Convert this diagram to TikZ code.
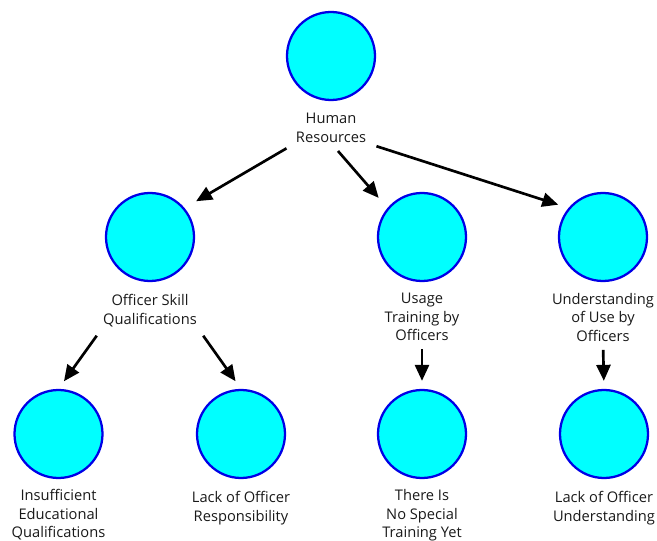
\documentclass[tikz,border=0pt]{standalone}
\usepackage{fontspec}
\setmainfont{Open Sans}
\usetikzlibrary{positioning}
\usetikzlibrary{arrows.meta}
\definecolor{aqua}{RGB}{0,255,255}
\definecolor{rim}{RGB}{0,0,230}

\begin{document}
\begin{tikzpicture}[x=.75pt, y=-.75pt,
  ball/.style={circle, draw=rim, fill=aqua, line width=1.7pt, minimum size=66pt, inner sep=0},
  txt/.style={align=center, inner sep=0, text=black!90, font=\fontsize{11}{14}\selectfont},
  arr/.style={black, line width=2pt, ->, >={Triangle[length=12pt,width=10.5pt]}}]
\useasboundingbox (0,0) rectangle (657,541);
% circles
\node[ball] (hr) at (331,56) {};
\node[ball] (skill) at (150,237) {};
\node[ball] (usage) at (422,237) {};
\node[ball] (underst) at (603,237) {};
\node[ball] (educ) at (58.5,434) {};
\node[ball] (resp) at (241,434) {};
\node[ball] (train) at (422,434) {};
\node[ball] (lack) at (604,434) {};
% labels
\node[txt, below=9pt of hr] (hrtxt) {Human\\Resources};
\node[txt, below=9pt of skill] (skilltxt) {Officer Skill\\Qualifications};
\node[txt, below=8pt of usage] (usagetxt) {Usage\\Training by\\Officers};
\node[txt, below=8pt of underst] (understtxt) {Understanding\\of Use by\\Officers};
\node[txt, below=7.5pt of educ] (eductxt) {Insufficient\\Educational\\Qualifications};
\node[txt, below=9pt of resp] (resptxt) {Lack of Officer\\Responsibility};
\node[txt, below=7.5pt of train] (traintxt) {There Is\\No Special\\Training Yet};
\node[txt, below=9pt of lack] (lacktxt) {Lack of Officer\\Understanding};
% arrows
\draw[arr, shorten <=8pt, shorten >=10pt] (hrtxt.south west) -- (skill.40);
\draw[arr, shorten <=8pt, shorten >=10pt] (hrtxt.south) -- (usage.140);
\draw[arr, shorten <=8pt, shorten >=8pt] (hrtxt.south east) -- (underst.140);
\draw[arr, shorten <=8pt, shorten >=7pt] (skilltxt.south west) -- (educ.north);
\draw[arr, shorten <=8pt, shorten >=7pt] (skilltxt.south east) -- (resp.north);
\draw[arr, shorten <=6pt, shorten >=6pt] (usagetxt.south) -- (train.north);
\draw[arr, shorten <=6pt, shorten >=6pt] (understtxt.south) -- (lack.north);
\end{tikzpicture}
\end{document}
